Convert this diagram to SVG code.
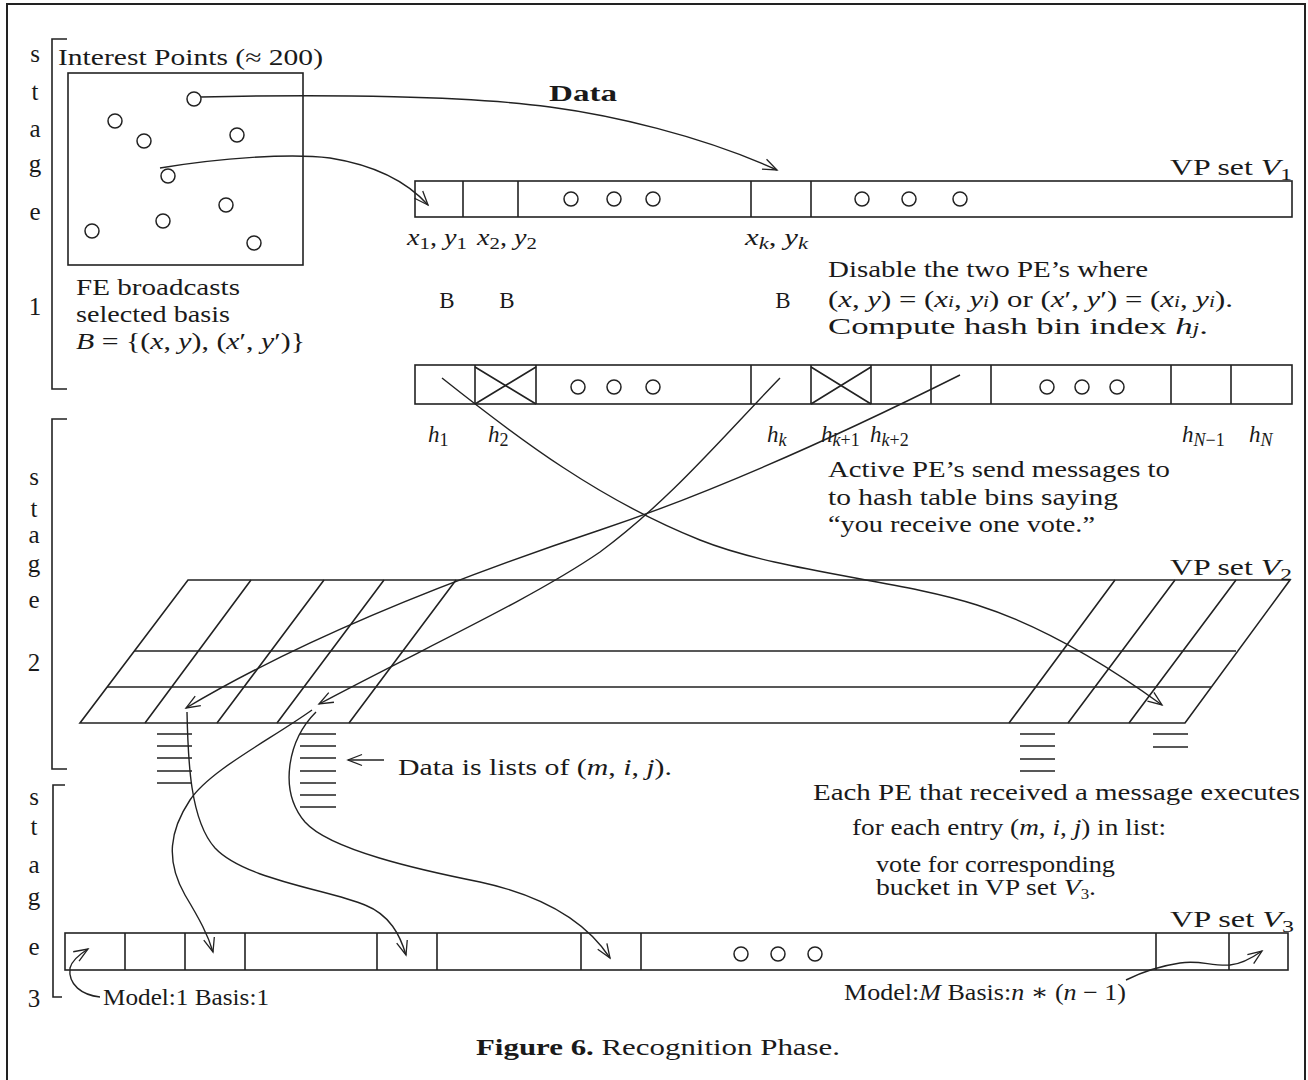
<svg xmlns="http://www.w3.org/2000/svg" width="1308" height="1080" viewBox="0 0 1308 1080">
<defs>
<style>
.t{font-family:"Liberation Serif","DejaVu Serif",serif;font-size:23px;fill:#1a1a1a}
.tb{font-family:"Liberation Serif","DejaVu Serif",serif;font-size:23px;font-weight:bold;fill:#1a1a1a}
.st{font-family:"Liberation Serif","DejaVu Serif",serif;font-size:25px;fill:#1a1a1a;text-anchor:middle}
.i{font-style:italic}
.ln{stroke:#222;stroke-width:1.6;fill:none}
.c{stroke:#222;stroke-width:1.5;fill:none}
.ar{stroke:#222;stroke-width:1.4;fill:none;marker-end:url(#ah)}
</style>
<marker id="ah" markerWidth="18" markerHeight="14" refX="15" refY="7" orient="auto" markerUnits="userSpaceOnUse">
<path d="M1,1.5 L15,7 L1,12.5" fill="none" stroke="#222" stroke-width="1.3"/>
</marker>
</defs>
<rect width="1308" height="1080" fill="#fff"/>
<path d="M7,1082 V4 H1305 V1082" fill="none" stroke="#222" stroke-width="2"/>

<g id="stage1-label">
<path class="ln" d="M67,39 H52 V389 H67"/>
<text class="st" x="35" y="62">s</text>
<text class="st" x="35" y="100">t</text>
<text class="st" x="35" y="137">a</text>
<text class="st" x="35" y="172">g</text>
<text class="st" x="35" y="220">e</text>
<text class="st" x="35" y="315">1</text>
</g>
<g id="stage2-label">
<path class="ln" d="M67,419 H52 V769 H67"/>
<text class="st" x="34" y="485">s</text>
<text class="st" x="34" y="517">t</text>
<text class="st" x="34" y="543">a</text>
<text class="st" x="34" y="572">g</text>
<text class="st" x="34" y="608">e</text>
<text class="st" x="34" y="671">2</text>
</g>
<g id="stage3-label">
<path class="ln" d="M65,785 H53 V997 H62"/>
<text class="st" x="34" y="805">s</text>
<text class="st" x="34" y="835">t</text>
<text class="st" x="34" y="873">a</text>
<text class="st" x="34" y="905">g</text>
<text class="st" x="34" y="955">e</text>
<text class="st" x="34" y="1007">3</text>
</g>

<g id="interest-points">
<text class="t" x="58" y="65" textLength="265" lengthAdjust="spacingAndGlyphs">Interest Points (≈ 200)</text>
<rect class="ln" x="68" y="73" width="235" height="192"/>
<g class="c">
<circle cx="194" cy="99" r="7"/>
<circle cx="115" cy="121" r="7"/>
<circle cx="144" cy="141" r="7"/>
<circle cx="237" cy="135" r="7"/>
<circle cx="168" cy="176" r="7"/>
<circle cx="226" cy="205" r="7"/>
<circle cx="163" cy="221" r="7"/>
<circle cx="92" cy="231" r="7"/>
<circle cx="254" cy="243" r="7"/>
</g>
</g>

<g id="fe-broadcast">
<text class="t" x="76" y="295" textLength="164" lengthAdjust="spacingAndGlyphs">FE broadcasts</text>
<text class="t" x="76" y="322" textLength="154" lengthAdjust="spacingAndGlyphs">selected basis</text>
<text class="t" x="76" y="349" textLength="229" lengthAdjust="spacingAndGlyphs"><tspan class="i">B</tspan> = {(<tspan class="i">x</tspan>, <tspan class="i">y</tspan>), (<tspan class="i">x</tspan>′, <tspan class="i">y</tspan>′)}</text>
</g>

<g id="data-label">
<text class="tb" x="549" y="101" textLength="68" lengthAdjust="spacingAndGlyphs">Data</text>
</g>

<g id="vp-set-v1">
<rect class="ln" x="415" y="181" width="877" height="36"/>
<path class="ln" d="M463,181 V217 M518,181 V217 M751,181 V217 M811,181 V217"/>
<g class="c">
<circle cx="571" cy="199" r="7"/><circle cx="614" cy="199" r="7"/><circle cx="653" cy="199" r="7"/>
<circle cx="862" cy="199" r="7"/><circle cx="909" cy="199" r="7"/><circle cx="960" cy="199" r="7"/>
</g>
<text class="t" x="1170" y="175" font-size="26" textLength="122" lengthAdjust="spacingAndGlyphs">VP set <tspan class="i">V</tspan><tspan font-size="17" dy="5">1</tspan></text>
<text class="t" x="407" y="245" font-size="24" textLength="60" lengthAdjust="spacingAndGlyphs"><tspan class="i">x</tspan><tspan font-size="17" dy="4">1</tspan><tspan dy="-4">, </tspan><tspan class="i">y</tspan><tspan font-size="17" dy="4">1</tspan></text>
<text class="t" x="477" y="245" font-size="24" textLength="60" lengthAdjust="spacingAndGlyphs"><tspan class="i">x</tspan><tspan font-size="17" dy="4">2</tspan><tspan dy="-4">, </tspan><tspan class="i">y</tspan><tspan font-size="17" dy="4">2</tspan></text>
<text class="t" x="745" y="245" font-size="24" textLength="63" lengthAdjust="spacingAndGlyphs"><tspan class="i">x</tspan><tspan font-size="17" dy="4" class="i">k</tspan><tspan dy="-4">, </tspan><tspan class="i">y</tspan><tspan font-size="17" dy="4" class="i">k</tspan></text>
<text class="t" x="447" y="308" font-size="25" text-anchor="middle">B</text>
<text class="t" x="507" y="308" font-size="25" text-anchor="middle">B</text>
<text class="t" x="783" y="308" font-size="25" text-anchor="middle">B</text>
</g>

<g id="disable-text">
<text class="t" x="828" y="277" textLength="320" lengthAdjust="spacingAndGlyphs">Disable the two PE’s where</text>
<text class="t" x="828" y="307" textLength="405" lengthAdjust="spacingAndGlyphs">(<tspan class="i">x</tspan>, <tspan class="i">y</tspan>) = (<tspan class="i">x</tspan><tspan font-size="16" class="i">i</tspan>, <tspan class="i">y</tspan><tspan font-size="16" class="i">i</tspan>) or (<tspan class="i">x</tspan>′, <tspan class="i">y</tspan>′) = (<tspan class="i">x</tspan><tspan font-size="16" class="i">i</tspan>, <tspan class="i">y</tspan><tspan font-size="16" class="i">i</tspan>).</text>
<text class="t" x="828" y="334" textLength="380" lengthAdjust="spacingAndGlyphs">Compute hash bin index <tspan class="i">h</tspan><tspan font-size="16" class="i">j</tspan>.</text>
</g>

<g id="hash-row">
<rect class="ln" x="415" y="365" width="877" height="39"/>
<path class="ln" d="M475,365 V404 M536,365 V404 M751,365 V404 M811,365 V404 M871,365 V404 M931,365 V404 M991,365 V404 M1171,365 V404 M1231,365 V404"/>
<path class="ln" d="M475,367 L536,404 M475,404 L536,367 M811,367 L871,404 M811,404 L871,367"/>
<g class="c">
<circle cx="578" cy="387" r="7"/><circle cx="614" cy="387" r="7"/><circle cx="653" cy="387" r="7"/>
<circle cx="1047" cy="387" r="7"/><circle cx="1082" cy="387" r="7"/><circle cx="1117" cy="387" r="7"/>
</g>
<text class="t" x="428" y="442" font-size="26"><tspan class="i">h</tspan><tspan font-size="18" dy="4">1</tspan></text>
<text class="t" x="488" y="442" font-size="26"><tspan class="i">h</tspan><tspan font-size="18" dy="4">2</tspan></text>
<text class="t" x="767" y="442" font-size="26"><tspan class="i">h</tspan><tspan font-size="18" dy="4" class="i">k</tspan></text>
<text class="t" x="821" y="442" font-size="26"><tspan class="i">h</tspan><tspan font-size="18" dy="4"><tspan class="i">k</tspan>+1</tspan></text>
<text class="t" x="870" y="442" font-size="26"><tspan class="i">h</tspan><tspan font-size="18" dy="4"><tspan class="i">k</tspan>+2</tspan></text>
<text class="t" x="1182" y="442" font-size="26"><tspan class="i">h</tspan><tspan font-size="18" dy="4"><tspan class="i">N</tspan>−1</tspan></text>
<text class="t" x="1249" y="442" font-size="26"><tspan class="i">h</tspan><tspan font-size="18" dy="4" class="i">N</tspan></text>
</g>

<g id="active-text">
<text class="t" x="828" y="477" textLength="342" lengthAdjust="spacingAndGlyphs">Active PE’s send messages to</text>
<text class="t" x="828" y="505" textLength="290" lengthAdjust="spacingAndGlyphs">to hash table bins saying</text>
<text class="t" x="828" y="532" textLength="267" lengthAdjust="spacingAndGlyphs">“you receive one vote.”</text>
</g>

<g id="vp-set-v2">
<path class="ln" d="M188,580 H1290 L1185,723 H80 Z"/>
<path class="ln" d="M134,651 H1236 M107,687 H1211"/>
<path class="ln" d="M251,580 L145,723 M324,580 L217,723 M384,580 L277,723 M456,580 L349,723 M1115,580 L1009,723 M1175,580 L1068,723 M1236,580 L1129,723"/>
<text class="t" x="1170" y="575" font-size="26" textLength="122" lengthAdjust="spacingAndGlyphs">VP set <tspan class="i">V</tspan><tspan font-size="17" dy="5">2</tspan></text>
<path class="ln" d="M157,734 H192 M157,746 H192 M157,758 H192 M157,771 H192 M157,783 H192"/>
<path class="ln" d="M300,734 H336 M300,746 H336 M300,758 H336 M300,771 H336 M300,783 H336 M300,795 H336 M300,807 H336"/>
<path class="ln" d="M1020,734 H1055 M1020,746 H1055 M1020,759 H1055 M1020,771 H1055"/>
<path class="ln" d="M1153,734 H1188 M1153,747 H1188"/>
</g>

<g id="data-lists-note">
<text class="t" x="398" y="775" textLength="274" lengthAdjust="spacingAndGlyphs">Data is lists of (<tspan class="i">m</tspan>, <tspan class="i">i</tspan>, <tspan class="i">j</tspan>).</text>
</g>

<g id="execute-text">
<text class="t" x="813" y="800" textLength="487" lengthAdjust="spacingAndGlyphs">Each PE that received a message executes</text>
<text class="t" x="852" y="835" font-size="21" textLength="314" lengthAdjust="spacingAndGlyphs">for each entry (<tspan class="i">m</tspan>, <tspan class="i">i</tspan>, <tspan class="i">j</tspan>) in list:</text>
<text class="t" x="876" y="872" font-size="21" textLength="239" lengthAdjust="spacingAndGlyphs">vote for corresponding</text>
<text class="t" x="876" y="895" font-size="21" textLength="220" lengthAdjust="spacingAndGlyphs">bucket in VP set <tspan class="i">V</tspan><tspan font-size="14" dy="4">3</tspan><tspan dy="-4">.</tspan></text>
</g>

<g id="vp-set-v3">
<rect class="ln" x="65" y="933" width="1223" height="37"/>
<path class="ln" d="M125,933 V970 M185,933 V970 M245,933 V970 M377,933 V970 M437,933 V970 M581,933 V970 M641,933 V970 M1156,933 V970 M1229,933 V970"/>
<g class="c">
<circle cx="741" cy="954" r="7"/><circle cx="778" cy="954" r="7"/><circle cx="815" cy="954" r="7"/>
</g>
<text class="t" x="1170" y="927" font-size="26" textLength="124" lengthAdjust="spacingAndGlyphs">VP set <tspan class="i">V</tspan><tspan font-size="17" dy="5">3</tspan></text>
<text class="t" x="103" y="1005" font-size="20" textLength="166" lengthAdjust="spacingAndGlyphs">Model:1 Basis:1</text>
<text class="t" x="844" y="1000" font-size="20" textLength="282" lengthAdjust="spacingAndGlyphs">Model:<tspan class="i">M</tspan> Basis:<tspan class="i">n</tspan> ∗ (<tspan class="i">n</tspan> − 1)</text>
</g>

<g id="caption">
<text class="t" x="476" y="1055" textLength="364" lengthAdjust="spacingAndGlyphs"><tspan font-weight="bold">Figure 6.</tspan> Recognition Phase.</text>
</g>

<g id="connectors">
<path class="ar" d="M201,97 C330,94 470,96 550,107 C610,115 700,135 777,170"/>
<path class="ar" d="M160,168 C220,158 290,153 330,158 C380,166 410,185 428,205"/>
<path class="ar" d="M442,378 C520,440 600,500 700,540 C780,572 900,580 977,605 C1040,625 1100,660 1162,705"/>
<path class="ar" d="M780,378 C720,440 670,500 600,552 C530,600 420,650 319,704"/>
<path class="ar" d="M960,375 C850,430 720,490 600,530 C450,580 300,640 186,708"/>
<path class="ar" d="M187,712 C188,760 190,820 215,848 C245,880 330,890 365,905 C390,915 400,935 406,955"/>
<path class="ar" d="M312,710 C270,740 210,770 190,800 C170,830 165,860 185,895 C200,920 208,935 213,952"/>
<path class="ar" d="M316,712 C288,740 278,790 305,822 C330,850 420,870 480,882 C540,895 585,920 610,958"/>
<path class="ar" d="M384,760 H348"/>
<path class="ar" d="M100,997 C82,995 68,985 70,968 C72,960 80,954 88,949"/>
<path class="ar" d="M1126,980 C1140,973 1160,966 1180,963 C1200,960 1210,966 1230,965 C1242,964 1252,958 1262,951"/>
</g>
</svg>
